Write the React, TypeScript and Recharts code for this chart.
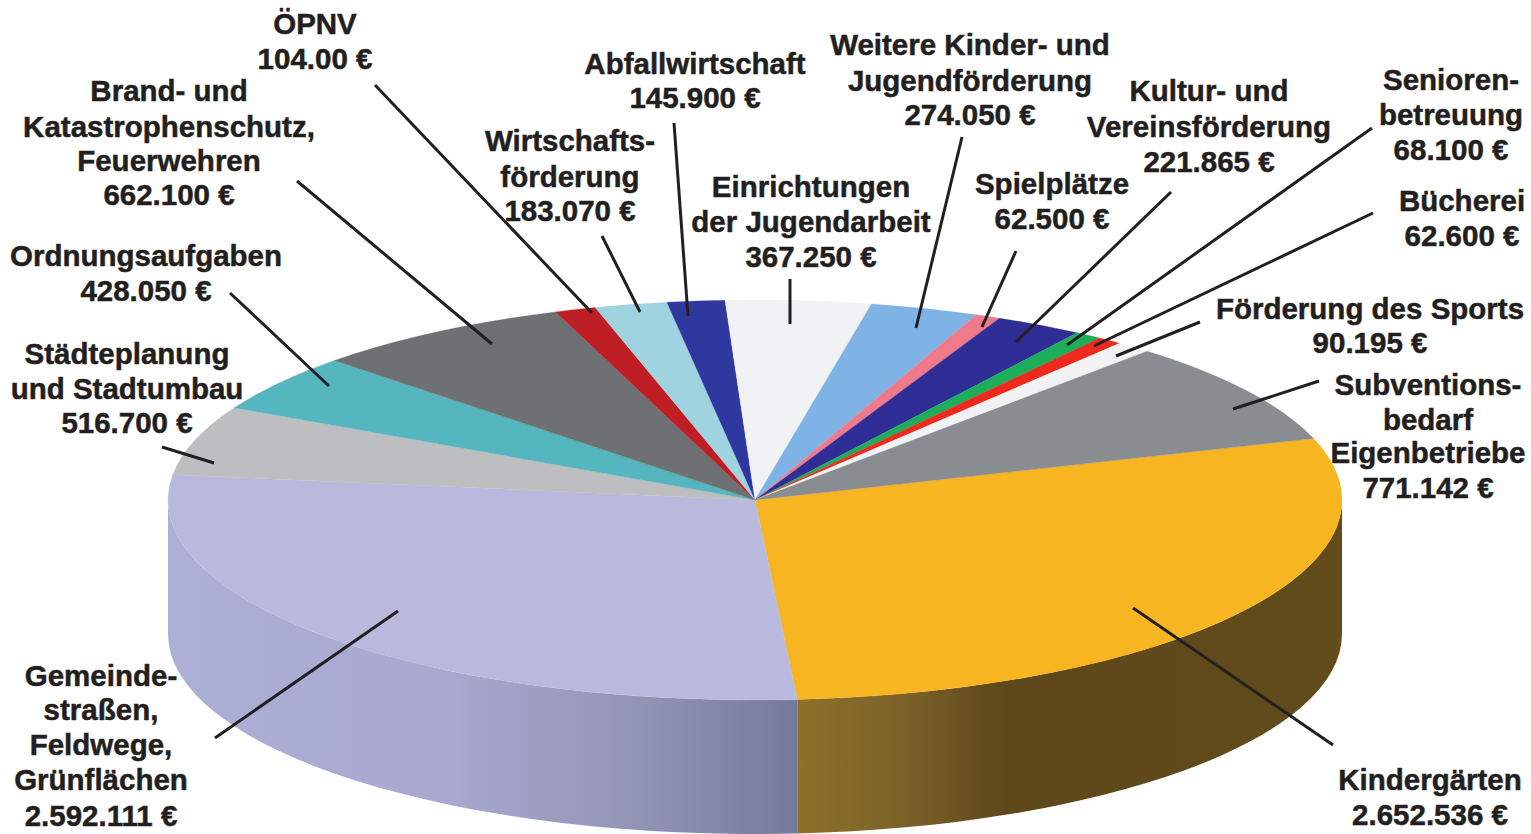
import React from "react";
import { PieChart, Pie } from "recharts";

const categories = ["Kindergärten","Gemeindestraßen","Städteplanung","Ordnungsaufgaben","Brandschutz","ÖPNV","Wirtschaftsförderung","Abfallwirtschaft","Einrichtungen","Weitere","Spielplätze","Kultur","Senioren","Bücherei","Sport","Subventionsbedarf"];
const values = [2652536,2592111,516700,428050,662100,104000,183070,145900,367250,274050,62500,221865,68100,62600,90195,771142];
const colors = ["#F7B522","#B9B9DD","#BCBEBF","#55B6BF","#6E7073","#BE1E24","#9FD3DF","#2F389F","#F1F2F3","#7FB3E6","#EF7A8B","#2E2E96","#1DAE5A","#EE2A1E","#F1F2F3","#898C90"];
const wallColors = ["url(#wallGold)","url(#wallBlue)"];
const labelLines = [
  ["Kindergärten","2.652.536 €"],
  ["Gemeinde-","straßen,","Feldwege,","Grünflächen","2.592.111 €"],
  ["Städteplanung","und Stadtumbau","516.700 €"],
  ["Ordnungsaufgaben","428.050 €"],
  ["Brand- und","Katastrophenschutz,","Feuerwehren","662.100 €"],
  ["ÖPNV","104.00 €"],
  ["Wirtschafts-","förderung","183.070 €"],
  ["Abfallwirtschaft","145.900 €"],
  ["Einrichtungen","der Jugendarbeit","367.250 €"],
  ["Weitere Kinder- und","Jugendförderung","274.050 €"],
  ["Spielplätze","62.500 €"],
  ["Kultur- und","Vereinsförderung","221.865 €"],
  ["Senioren-","betreuung","68.100 €"],
  ["Bücherei","62.600 €"],
  ["Förderung des Sports","90.195 €"],
  ["Subventions-","bedarf","Eigenbetriebe","771.142 €"],
];

// Layout of the annotations only: text centre, baselines, leader line ends.
const labelX = [1430,101,127,146,169,315,570,695,811,970,1052,1209,1451,1462,1370,1428];
const labelBaselines = [
  [790,825],[686,720,755,790,826],[364,399,433],[266,301],[101,137,171,205],[34,69],[151,187,221],[74,108],
  [197,232,267],[55,91,125],[194,229],[101,137,172],[90,125,160],[211,246],[319,353],[395,430,463,498],
];
const leaders = [
  [1333,745,1133,608],[215,738,398,611],[162,447,214,463],[230,293,329,386],[297,181,492,344],[375,85,592,313],
  [602,236,640,312],[674,123,688,316],[790,279,790,324],[962,137,916,328],[1016,251,982,327],[1171,192,1016,342],
  [1372,128,1067,345],[1373,213,1094,346],[1200,322,1116,356],[1319,381,1233,409],
];

const data = categories.map((name, i) => ({ name, value: values[i], fill: colors[i], wall: wallColors[i] ?? "none" }));

const SQUASH = 200 / 587;
const DEPTH = 134;
const RAD = Math.PI / 180;
const START = 17.9;

const pt = (cx: number, cy: number, r: number, a: number, dy = 0) =>
  `${(cx + r * Math.cos(a * RAD)).toFixed(2)} ${(cy - r * SQUASH * Math.sin(a * RAD) + dy).toFixed(2)}`;

const TopShape = (p: any) => {
  const { cx, cy, outerRadius: r, startAngle: s, endAngle: e, fill } = p;
  const ry = r * SQUASH;
  const large = Math.abs(s - e) > 180 ? 1 : 0;
  return <path d={`M${cx} ${cy}L${pt(cx, cy, r, s)}A${r} ${ry} 0 ${large} 1 ${pt(cx, cy, r, e)}Z`} fill={fill} stroke={fill} strokeWidth={0.3} />;
};

const WallShape = (p: any) => {
  const { cx, cy, outerRadius: r, startAngle: s, endAngle: e, payload } = p;
  const wall = payload?.wall ?? p.wall;
  if (!wall || wall === "none") return <g />;
  const a = Math.min(s, 0);
  const b = Math.max(e, -180);
  if (a <= b) return <g />;
  const ry = r * SQUASH;
  return (
    <path
      d={`M${pt(cx, cy, r, a)}A${r} ${ry} 0 0 1 ${pt(cx, cy, r, b)}L${pt(cx, cy, r, b, DEPTH)}A${r} ${ry} 0 0 0 ${pt(cx, cy, r, a, DEPTH)}Z`}
      fill={wall}
    />
  );
};

const renderLabel = (p: any) => {
  const i = p.index;
  const [x1, y1, x2, y2] = leaders[i];
  return (
    <g key={i}>
      <line x1={x1} y1={y1} x2={x2} y2={y2} stroke="#231F20" strokeWidth={3} />
      <text textAnchor="middle" fontFamily="'Liberation Sans', Arial, sans-serif" fontWeight="bold" fontSize={29.5} fill="#231F20" stroke="#231F20" strokeWidth={0.5}>
        {labelLines[i].map((t, j) => (
          <tspan key={j} x={labelX[i]} y={labelBaselines[i][j]}>{t}</tspan>
        ))}
      </text>
    </g>
  );
};

export default function App() {
  return (
    <div style={{ position: "fixed", left: 0, top: 0, width: 1531, height: 834, overflow: "hidden", background: "#fff" }}>
      <PieChart width={1531} height={834} margin={{ top: 0, right: 0, bottom: 0, left: 0 }}>
        <defs>
          <linearGradient id="wallGold" gradientUnits="userSpaceOnUse" x1={797} y1={0} x2={1342} y2={0}>
            <stop offset="0" stopColor="#8F7029" />
            <stop offset="0.2" stopColor="#7A6228" />
            <stop offset="0.38" stopColor="#5E4719" />
            <stop offset="1" stopColor="#624C1C" />
          </linearGradient>
          <linearGradient id="wallBlue" gradientUnits="userSpaceOnUse" x1={168} y1={0} x2={797} y2={0}>
            <stop offset="0" stopColor="#ADAFD6" />
            <stop offset="0.45" stopColor="#A8A8D0" />
            <stop offset="0.75" stopColor="#9294B4" />
            <stop offset="1" stopColor="#767A9A" />
          </linearGradient>
        </defs>
        <Pie data={data} dataKey="value" cx={755} cy={500} outerRadius={587} startAngle={START} endAngle={START - 360} isAnimationActive={false} shape={WallShape} stroke="none" legendType="none" />
        <Pie data={data} dataKey="value" cx={755} cy={500} outerRadius={587} startAngle={START} endAngle={START - 360} isAnimationActive={false} shape={TopShape} stroke="none" label={renderLabel} labelLine={false} />
      </PieChart>
    </div>
  );
}
